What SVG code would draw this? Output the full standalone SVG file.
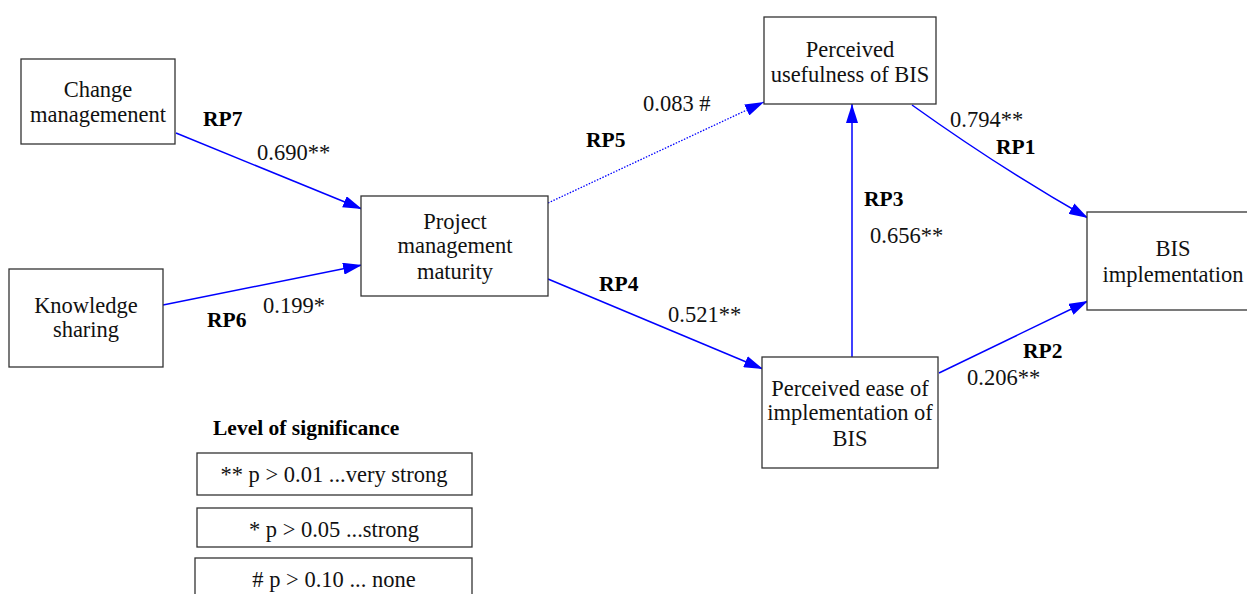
<svg xmlns="http://www.w3.org/2000/svg" width="1247" height="594" viewBox="0 0 1247 594">
<defs>
<marker id="ah" markerUnits="userSpaceOnUse" markerWidth="19" markerHeight="12" refX="19" refY="6" orient="auto">
<path d="M0,0 L19,6 L0,12 z" fill="#0000ff"/>
</marker>
<style>
.box{fill:#fff;stroke:#333;stroke-width:1.3}
.t{font-family:"Liberation Serif","Times New Roman",serif;font-size:22.5px;fill:#111}
.c{text-anchor:middle}
.b{font-family:"Liberation Serif","Times New Roman",serif;font-size:21.5px;font-weight:bold;fill:#000}
.e{fill:none;stroke:#0000ff;stroke-width:1.5}
.d{stroke-dasharray:1.5 1.5;stroke-width:1.3}
</style>
</defs>
<rect width="1247" height="594" fill="#fff"/>
<g id="connectors">
<line class="e" x1="176" y1="133" x2="362" y2="209" marker-end="url(#ah)"/>
<line class="e" x1="163" y1="305" x2="362" y2="265" marker-end="url(#ah)"/>
<line class="e d" x1="548" y1="203" x2="764" y2="102" marker-end="url(#ah)"/>
<line class="e" x1="548" y1="279" x2="763" y2="369" marker-end="url(#ah)"/>
<line class="e" x1="852" y1="357" x2="852" y2="104" marker-end="url(#ah)"/>
<path class="e" d="M912,105 Q1000,168 1088,218" marker-end="url(#ah)"/>
<line class="e" x1="939" y1="373" x2="1088" y2="301" marker-end="url(#ah)"/>
</g>
<g id="change-management">
<rect class="box" x="21" y="59" width="154" height="85"/>
<text class="t c" x="98" y="97">Change</text>
<text class="t c" x="98" y="122">managemenent</text>
</g>
<g id="knowledge-sharing">
<rect class="box" x="9" y="269" width="154" height="98"/>
<text class="t c" x="86" y="313">Knowledge</text>
<text class="t c" x="86" y="337">sharing</text>
</g>
<g id="project-management-maturity">
<rect class="box" x="361" y="196" width="187" height="100"/>
<text class="t c" x="455" y="229">Project</text>
<text class="t c" x="455" y="253">management</text>
<text class="t c" x="455" y="279">maturity</text>
</g>
<g id="perceived-usefulness">
<rect class="box" x="764" y="17" width="172" height="87"/>
<text class="t c" x="850" y="57">Perceived</text>
<text class="t c" x="850" y="82">usefulness of BIS</text>
</g>
<g id="perceived-ease">
<rect class="box" x="762" y="357" width="176" height="111"/>
<text class="t c" x="850" y="396">Perceived ease of</text>
<text class="t c" x="850" y="420">implementation of</text>
<text class="t c" x="850" y="446">BIS</text>
</g>
<g id="bis-implementation">
<rect class="box" x="1087" y="212" width="170" height="98"/>
<text class="t c" x="1173" y="256">BIS</text>
<text class="t c" x="1173" y="282">implementation</text>
</g>
<g id="edge-labels">
<text class="b" x="203" y="126">RP7</text>
<text class="t" x="257" y="160">0.690**</text>
<text class="b" x="207" y="327">RP6</text>
<text class="t" x="263" y="313">0.199*</text>
<text class="t" x="643" y="111">0.083 #</text>
<text class="b" x="586" y="147">RP5</text>
<text class="b" x="864" y="206">RP3</text>
<text class="t" x="870" y="243">0.656**</text>
<text class="b" x="599" y="291">RP4</text>
<text class="t" x="668" y="322">0.521**</text>
<text class="t" x="950" y="127">0.794**</text>
<text class="b" x="996" y="154">RP1</text>
<text class="b" x="1023" y="358">RP2</text>
<text class="t" x="967" y="385">0.206**</text>
</g>
<g id="legend">
<text class="b" x="213" y="435">Level of significance</text>
<rect class="box" x="197" y="453" width="275" height="42"/>
<text class="t c" x="334" y="482">** p &gt; 0.01 ...very strong</text>
<rect class="box" x="197" y="508" width="275" height="39"/>
<text class="t c" x="334" y="537">* p &gt; 0.05 ...strong</text>
<rect class="box" x="195" y="558" width="277" height="50"/>
<text class="t c" x="334" y="587"># p &gt; 0.10 ... none</text>
</g>
</svg>
